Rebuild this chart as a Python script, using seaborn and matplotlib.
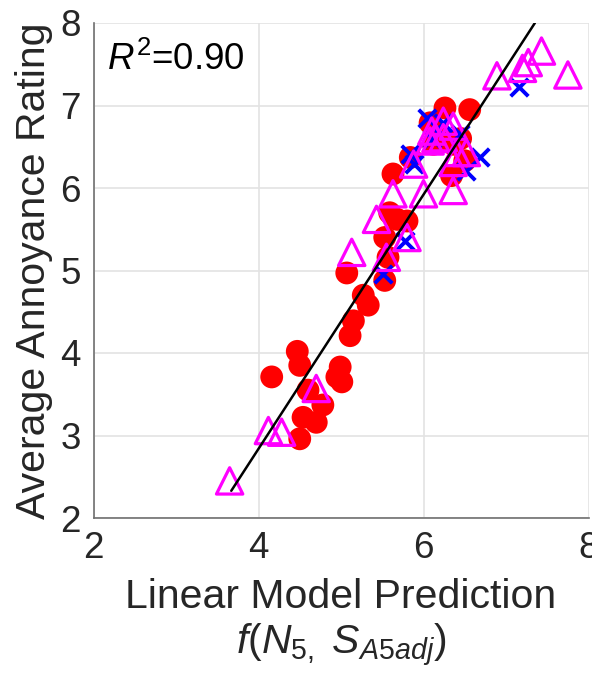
import numpy as np
import pandas as pd
import matplotlib
matplotlib.use("Agg")
import matplotlib.pyplot as plt
import seaborn as sns

# red circles
circ_x = [6.26, 6.56, 6.08, 6.12, 6.36, 6.50, 6.34, 5.84, 5.63, 6.20, 6.45,
          5.59, 5.80, 5.53, 5.57, 5.53, 5.07, 5.27, 5.33, 5.15, 5.11, 5.68,
          4.47, 4.50, 4.16, 4.99, 4.95, 5.01, 4.78, 4.54, 4.70, 4.50, 4.60]
circ_y = [6.97, 6.95, 6.79, 6.53, 6.53, 6.33, 6.15, 6.37, 6.17, 6.62, 6.60,
          5.70, 5.60, 5.40, 5.16, 4.88, 4.97, 4.70, 4.58, 4.39, 4.21, 5.62,
          4.02, 3.85, 3.71, 3.83, 3.71, 3.65, 3.37, 3.22, 3.16, 2.96, 3.55]

# blue crosses
cross_x = [7.16, 6.04, 6.24, 6.44, 6.68, 6.52, 5.84, 5.88, 5.77, 5.51, 6.10]
cross_y = [7.22, 6.85, 6.79, 6.65, 6.37, 6.21, 6.41, 6.29, 5.36, 4.96, 6.60]

# magenta triangles
tri_x = [3.65, 4.12, 4.28, 4.70, 5.13, 5.55, 5.43, 5.80, 5.63, 6.00, 6.36,
         5.88, 6.08, 6.10, 6.24, 6.24, 6.36, 6.40, 6.52, 6.36, 6.15,
         6.89, 7.20, 7.27, 7.43, 7.75]
tri_y = [2.45, 3.06, 3.04, 3.57, 5.22, 5.16, 5.62, 5.40, 5.93, 5.93, 5.97,
         6.29, 6.57, 6.69, 6.61, 6.81, 6.75, 6.43, 6.43, 6.31, 6.60,
         7.36, 7.45, 7.52, 7.66, 7.37]

# fitted line end points
fit_x = [3.67, 7.35]
fit_y = [2.33, 8.0]

r2_text = "$R^2$=0.90"
xticks = [2, 4, 6, 8]
yticks = [2, 3, 4, 5, 6, 7, 8]

sns.set_style("white")
plt.rcParams["font.family"] = ["Liberation Sans", "DejaVu Sans"]
plt.rcParams["mathtext.fontset"] = "custom"
plt.rcParams["mathtext.rm"] = "Liberation Sans"
plt.rcParams["mathtext.it"] = "Liberation Sans:italic"

fig = plt.figure(figsize=(5.92, 6.78), dpi=100)
ax = fig.add_axes([93.5 / 592, (678 - 518) / 678, 495 / 592, 495 / 678])

sns.scatterplot(x=circ_x, y=circ_y, ax=ax, marker="o", s=270,
                color="#ff0000", edgecolor="none", zorder=3)
sns.scatterplot(x=cross_x, y=cross_y, ax=ax, marker="x", s=160,
                color="#0000ff", linewidth=2.8, zorder=4)
sns.scatterplot(x=tri_x, y=tri_y, ax=ax, marker="^", s=360,
                facecolor="none", edgecolor="#ff00ff", linewidth=2.3, zorder=5)
sns.lineplot(x=fit_x, y=fit_y, ax=ax, color="black", linewidth=1.8, zorder=6)

ax.set_xlim(2, 8)
ax.set_ylim(2, 8)
ax.set_xticks(xticks)
ax.set_yticks(yticks)
ax.grid(True, color="#e3e3e3", linewidth=1.2)
ax.set_axisbelow(True)
for s in ["top", "right"]:
    ax.spines[s].set_visible(False)
for s in ["left", "bottom"]:
    ax.spines[s].set_color("#707070")
    ax.spines[s].set_linewidth(1.2)
ax.tick_params(direction="in", length=4, width=1, color="#707070",
               labelsize=26.5, labelcolor="#262626", pad=9)

ax.set_ylabel("Average Annoyance Rating", fontsize=29.5, color="#262626", va="center")
ax.yaxis.set_label_coords(-0.12, 0.5)
ax.set_xlabel("Linear Model Prediction", fontsize=29.5, color="#262626", va="center")
ax.xaxis.set_label_coords(0.5, -0.16)
ax.text(0.5, -0.257, r"$f(N_{5,}\ S_{A5adj})$", transform=ax.transAxes,
        fontsize=29.5, color="#262626", ha="center", va="center")

ax.text(0.027, 0.925, r2_text, transform=ax.transAxes, fontsize=26.5,
        color="black", ha="left", va="center")

fig.savefig("out.png", dpi=100)
